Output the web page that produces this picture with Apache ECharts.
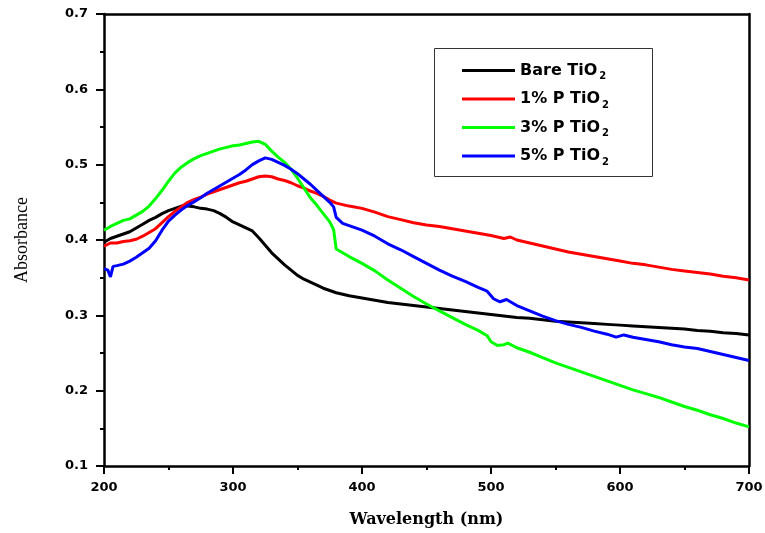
<!DOCTYPE html>
<html>
<head>
<meta charset="utf-8">
<script src="https://cdn.jsdelivr.net/npm/echarts@6/dist/echarts.min.js"></script>
<style>html,body{margin:0;padding:0;background:#fff;}#c{width:765px;height:533px;}</style>
</head>
<body>
<div id="c"></div>
<script>
var seriesNames = ['Bare TiO2', '1% P TiO2', '3% P TiO2', '5% P TiO2'];
var seriesColors = ['#000000', '#ff0000', '#00ff00', '#0000ff'];

var bareWl = [200,205,210,215,220,225,230,235,240,245,250,255,260,265,270,275,280,285,290,295,300,305,310,315,320,325,330,335,340,345,350,355,360,365,370,375,380,385,390,400,410,420,430,440,450,460,470,480,490,500,510,520,530,540,550,560,570,580,590,600,610,620,630,640,650,660,670,680,690,700];
var bareAbs = [0.397,0.402,0.405,0.408,0.411,0.416,0.421,0.426,0.430,0.435,0.439,0.442,0.445,0.445,0.444,0.442,0.441,0.439,0.435,0.430,0.424,0.420,0.416,0.412,0.403,0.393,0.383,0.375,0.367,0.360,0.353,0.348,0.344,0.340,0.336,0.333,0.330,0.328,0.326,0.323,0.320,0.317,0.315,0.313,0.311,0.309,0.307,0.305,0.303,0.301,0.299,0.297,0.296,0.294,0.292,0.291,0.290,0.289,0.288,0.287,0.286,0.285,0.284,0.283,0.282,0.280,0.279,0.277,0.276,0.274];

var p1Wl = [200,205,210,215,220,225,230,235,240,245,250,255,260,265,270,275,280,285,290,295,300,305,310,315,320,325,330,335,340,345,350,355,360,365,370,375,380,390,400,410,420,430,440,450,460,470,480,490,500,510,515,520,530,540,550,560,570,580,590,600,610,620,630,640,650,660,670,680,690,700];
var p1Abs = [0.392,0.396,0.396,0.398,0.399,0.401,0.405,0.410,0.415,0.423,0.431,0.438,0.444,0.450,0.454,0.457,0.461,0.464,0.467,0.470,0.473,0.476,0.478,0.481,0.484,0.485,0.484,0.481,0.479,0.476,0.472,0.469,0.465,0.462,0.458,0.453,0.449,0.445,0.442,0.437,0.431,0.427,0.423,0.420,0.418,0.415,0.412,0.409,0.406,0.402,0.404,0.400,0.396,0.392,0.388,0.384,0.381,0.378,0.375,0.372,0.369,0.367,0.364,0.361,0.359,0.357,0.355,0.352,0.350,0.347];

var p3Wl = [200,205,210,215,220,225,230,235,240,245,250,255,260,265,270,275,280,285,290,295,300,305,310,315,320,325,330,335,340,345,350,355,360,365,370,375,378,380,385,390,400,410,420,430,440,450,460,470,480,490,497,500,505,510,513,520,530,540,550,560,570,580,590,600,610,620,630,640,650,660,670,680,690,700];
var p3Abs = [0.413,0.418,0.422,0.426,0.428,0.433,0.438,0.445,0.455,0.466,0.478,0.489,0.497,0.503,0.508,0.512,0.515,0.518,0.521,0.523,0.525,0.526,0.528,0.530,0.531,0.527,0.518,0.510,0.503,0.494,0.482,0.469,0.456,0.446,0.435,0.424,0.414,0.388,0.383,0.378,0.369,0.359,0.347,0.336,0.325,0.315,0.306,0.297,0.288,0.280,0.273,0.265,0.260,0.261,0.263,0.257,0.251,0.244,0.237,0.231,0.225,0.219,0.213,0.207,0.201,0.196,0.191,0.185,0.179,0.174,0.168,0.163,0.157,0.152];

var p5Wl = [200,203,205,207,210,215,220,225,230,235,240,245,250,255,260,265,270,275,280,285,290,295,300,305,310,315,320,325,330,335,340,345,350,355,360,365,370,375,378,380,385,390,400,410,420,430,440,450,460,470,480,490,497,502,507,512,520,530,540,550,560,570,580,590,597,603,610,620,630,640,650,660,670,680,690,700];
var p5Abs = [0.362,0.360,0.351,0.365,0.366,0.368,0.372,0.377,0.383,0.389,0.399,0.413,0.425,0.433,0.440,0.446,0.451,0.456,0.462,0.467,0.472,0.477,0.482,0.487,0.493,0.500,0.505,0.509,0.507,0.503,0.499,0.494,0.488,0.481,0.474,0.466,0.458,0.450,0.444,0.430,0.422,0.419,0.413,0.405,0.395,0.387,0.378,0.369,0.360,0.352,0.345,0.337,0.332,0.322,0.318,0.321,0.313,0.306,0.299,0.293,0.288,0.284,0.279,0.275,0.271,0.274,0.271,0.268,0.265,0.261,0.258,0.256,0.252,0.248,0.244,0.240];

var xTicks = {min: 200, max: 700, interval: 100};
var yTicks = {min: 0.1, max: 0.7, interval: 0.1};

function pairs(wl, ab) { return wl.map(function (w, i) { return [w, ab[i]]; }); }
var allData = [pairs(bareWl, bareAbs), pairs(p1Wl, p1Abs), pairs(p3Wl, p3Abs), pairs(p5Wl, p5Abs)];

var chart = echarts.init(document.getElementById('c'), null, {renderer: 'canvas'});
var labelFont = {fontFamily: 'DejaVu Sans', fontWeight: 'bold', fontSize: 13, color: '#000'};

chart.setOption({
  animation: false,
  backgroundColor: '#fff',
  grid: {left: 104, right: 16, top: 14, bottom: 67, containLabel: false, outerBoundsMode: 'none'},
  graphic: [{
    type: 'rect', left: 434, top: 48, z: 5,
    shape: {width: 218, height: 128},
    style: {fill: '#fff', stroke: '#333', lineWidth: 1}
  }],
  legend: {
    orient: 'vertical', left: 462, top: 61, padding: 0, z: 10,
    itemWidth: 53, itemHeight: 3, itemGap: 8, icon: 'rect',
    data: seriesNames,
    formatter: function (n) { return n.replace('TiO2', 'TiO{s|2}'); },
    textStyle: {
      fontFamily: 'DejaVu Sans', fontWeight: 'bold', fontSize: 16, color: '#000', lineHeight: 19,
      rich: {
        s: {fontFamily: 'DejaVu Sans', fontWeight: 'bold', fontSize: 10, color: '#000', padding: [12, 0, 0, 2]}
      }
    }
  },
  xAxis: [{
    type: 'value', min: xTicks.min, max: xTicks.max, interval: xTicks.interval,
    name: 'Wavelength (nm)', nameLocation: 'middle', nameGap: 46,
    nameTextStyle: {fontFamily: 'DejaVu Serif', fontWeight: 'bold', fontSize: 16, color: '#000'},
    axisLine: {show: true, onZero: false, lineStyle: {color: '#000', width: 2.5}},
    axisTick: {show: true, inside: false, length: 8, lineStyle: {color: '#000', width: 2}},
    minorTick: {show: true, splitNumber: 2, length: 4, lineStyle: {color: '#000', width: 2}},
    axisLabel: Object.assign({margin: 15}, labelFont),
    splitLine: {show: false}
  }, {
    type: 'value', position: 'top', min: xTicks.min, max: xTicks.max, interval: xTicks.interval,
    axisLine: {show: true, onZero: false, lineStyle: {color: '#000', width: 2.5}},
    axisTick: {show: false}, axisLabel: {show: false}, splitLine: {show: false}
  }],
  yAxis: [{
    type: 'value', min: yTicks.min, max: yTicks.max, interval: yTicks.interval,
    name: 'Absorbance', nameLocation: 'middle', nameGap: 73,
    nameTextStyle: {fontFamily: 'Liberation Serif', fontSize: 18, color: '#000'},
    axisLine: {show: true, onZero: false, lineStyle: {color: '#000', width: 2.5}},
    axisTick: {show: true, inside: false, length: 8, lineStyle: {color: '#000', width: 2}},
    minorTick: {show: true, splitNumber: 2, length: 4, lineStyle: {color: '#000', width: 2}},
    axisLabel: Object.assign({margin: 16, formatter: function (v) { return v.toFixed(1); }}, labelFont),
    splitLine: {show: false}
  }, {
    type: 'value', position: 'right', min: yTicks.min, max: yTicks.max, interval: yTicks.interval,
    axisLine: {show: true, onZero: false, lineStyle: {color: '#000', width: 2.5}},
    axisTick: {show: false}, axisLabel: {show: false}, splitLine: {show: false}
  }],
  series: seriesNames.map(function (n, i) {
    return {
      name: n, type: 'line', data: allData[i], showSymbol: false, symbol: 'none',
      smooth: false, color: seriesColors[i],
      lineStyle: {color: seriesColors[i], width: 3},
      itemStyle: {color: seriesColors[i]}
    };
  })
});
</script>
</body>
</html>
